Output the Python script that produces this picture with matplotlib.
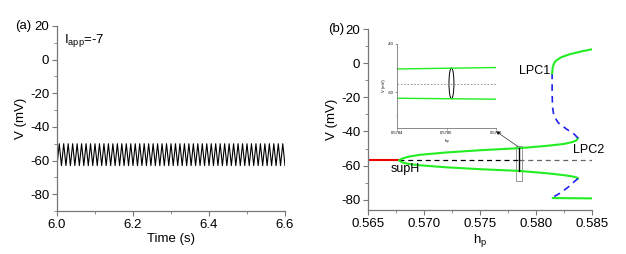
import numpy as np
import matplotlib
matplotlib.use('Agg')
import matplotlib.pyplot as plt
from matplotlib.patches import Ellipse, Rectangle

plt.rcParams['font.family'] = ['Liberation Sans', 'DejaVu Sans']
plt.rcParams['font.size'] = 9.5
plt.rcParams['axes.unicode_minus'] = False
plt.rcParams['mathtext.fontset'] = 'custom'
plt.rcParams['mathtext.rm'] = 'Liberation Sans'
plt.rcParams['mathtext.it'] = 'Liberation Sans'

# panel (a): tonic oscillation, Iapp = -7
t_start, t_end = 6.0, 6.6
n_cycles = 51
v_peak, v_trough = -50.0, -63.0

# panel (b): bifurcation diagram in hp
rest_hp = [0.565, 0.5678]
rest_v = [-57, -57]
unst_hp = [0.5678, 0.5785, 0.585]
unst_v = [-57, -57, -57]

upper_hp = [0.5678, 0.5679, 0.5681, 0.5686, 0.5696, 0.5720, 0.5750, 0.5785,
            0.5810, 0.5825, 0.5832, 0.5836, 0.58375]
upper_v = [-57, -56.4, -55.8, -54.8, -53.7, -52.3, -51.0, -49.8,
           -48.4, -47.3, -46.3, -45.3, -43.9]
lower_hp = [0.5678, 0.5679, 0.5681, 0.5686, 0.5696, 0.5720, 0.5750, 0.5785,
            0.5810, 0.5825, 0.5832, 0.5836, 0.58375]
lower_v = [-57, -57.6, -58.2, -59.0, -59.8, -61.0, -62.1, -63.1,
           -64.5, -65.6, -66.3, -66.9, -67.5]

blue_up_hp = [0.58375, 0.5834, 0.5827, 0.5820, 0.5816, 0.58148, 0.58144, 0.58144]
blue_up_v = [-43.9, -41.5, -38.5, -35.0, -31.0, -26.0, -18.0, -6.0]
top_hp = [0.58144, 0.5815, 0.5817, 0.5822, 0.5830, 0.5840, 0.5850]
top_v = [-6.0, -2.0, 1.0, 3.3, 5.2, 6.8, 8.1]

blue_lo_hp = [0.58375, 0.5834, 0.5828, 0.5821, 0.5815]
blue_lo_v = [-67.5, -69.5, -73.0, -76.3, -78.6]
bot_hp = [0.5815, 0.5850]
bot_v = [-79.0, -79.2]

orbit_hp = 0.5785
orbit_vmin, orbit_vmax = -63.2, -49.8
box = [0.57822, -68.9, 0.00054, 20.1]  # x, y, w, h

# inset (zoom near hp = 0.5785)
ins_hp = [0.5784, 0.5786]
ins_up = [-50.4, -49.8]
ins_lo = [-62.6, -63.0]
ins_unst = [-56.5, -56.5]
ins_orbit = (0.57851, -56.4, 0.00001, 12.8)

green = '#22ee22'

fig = plt.figure(figsize=(6.26, 2.54), dpi=100)

# ---- (a)
ax1 = fig.add_axes([57/626, 43/254, 228/626, 185/254])
t = np.linspace(t_start, t_end, 2*n_cycles + 1)
v = np.tile([v_trough, v_peak], n_cycles + 1)[:len(t)]
ax1.plot(t, v, color='k', lw=0.8)
ax1.set_xlim(6.0, 6.6)
ax1.set_ylim(-90, 20)
ax1.set_xticks([6.0, 6.2, 6.4, 6.6])
ax1.set_xticks([6.1, 6.3, 6.5], minor=True)
ax1.set_yticks([20, 0, -20, -40, -60, -80])
ax1.set_yticks(np.arange(-90, 20, 10), minor=True)
ax1.set_xlabel('Time (s)', labelpad=2)
ax1.set_ylabel('V (mV)', labelpad=2)
ax1.text(0.03, 0.97, r'I$_{\mathrm{app}}$=-7', transform=ax1.transAxes,
         ha='left', va='top')
fig.text(15/626, 1 - 26/254, '(a)', ha='left', va='center')

# ---- (b)
ax2 = fig.add_axes([368/626, 44/254, 224/626, 181/254])
ax2.plot(unst_hp[:2], unst_v[:2], color='k', lw=0.9, ls=(0, (4, 3)))
ax2.plot(unst_hp[1:], unst_v[1:], color='#666666', lw=0.9, ls=(0, (4, 3)))
ax2.plot(rest_hp, rest_v, color='#ee0000', lw=1.5)
ax2.plot(upper_hp, upper_v, color=green, lw=1.5)
ax2.plot(lower_hp, lower_v, color=green, lw=1.5)
ax2.plot(blue_up_hp, blue_up_v, color='#2222ee', lw=1.2, ls=(0, (4, 3)))
ax2.plot(blue_lo_hp, blue_lo_v, color='#2222ee', lw=1.2, ls=(0, (4, 3)))
ax2.plot(top_hp, top_v, color=green, lw=1.5)
ax2.plot(bot_hp, bot_v, color=green, lw=1.5)
ax2.plot([orbit_hp, orbit_hp], [orbit_vmin, orbit_vmax], color='k', lw=1.0)
ax2.add_patch(Rectangle((box[0], box[1]), box[2], box[3], fill=False,
                        ec='#888888', lw=0.6))
ax2.set_xlim(0.565, 0.585)
ax2.set_ylim(-86, 20)
ax2.set_xticks([0.565, 0.570, 0.575, 0.580, 0.585])
ax2.set_xticks([0.5675, 0.5725, 0.5775, 0.5825], minor=True)
ax2.set_yticks([20, 0, -20, -40, -60, -80])
ax2.set_yticks(np.arange(-80, 20, 10), minor=True)
ax2.set_xlabel(r'h$_{\mathrm{p}}$', labelpad=2)
ax2.set_ylabel('V (mV)', labelpad=2)
ax2.text(0.5670, -62, 'supH', ha='left', va='center', fontsize=9)
ax2.text(0.58125, -4.4, 'LPC1', ha='right', va='center', fontsize=9)
ax2.text(0.58326, -50.8, 'LPC2', ha='left', va='center', fontsize=9)
fig.text(328/626, 1 - 29/254, '(b)', ha='left', va='center')

for ax in (ax1, ax2):
    for s in ('top', 'right'):
        ax.spines[s].set_visible(False)
    for s in ('left', 'bottom'):
        ax.spines[s].set_color('#777777')
        ax.spines[s].set_linewidth(0.9)
    ax.tick_params(which='major', direction='out', length=3.5, width=0.8,
                   color='#777777', pad=2)
    ax.tick_params(which='minor', direction='out', length=2, width=0.6,
                   color='#777777')

# ---- inset
axi = fig.add_axes([397/626, 1 - 128/254, 99/626, 84/254])
axi.plot(ins_hp, ins_unst, color='#888888', lw=0.6, ls=(0, (2, 2)))
axi.plot(ins_hp, ins_up, color=green, lw=1.0)
axi.plot(ins_hp, ins_lo, color=green, lw=1.0)
axi.add_patch(Ellipse((ins_orbit[0], ins_orbit[1]), ins_orbit[2], ins_orbit[3],
                      fill=False, ec='k', lw=0.7))
axi.set_xlim(ins_hp[0], ins_hp[1])
axi.set_ylim(-75, -40)
axi.set_xticks([0.5784, 0.5785, 0.5786])
axi.set_xticklabels(['0.5784', '0.5785', '0.5786'])
axi.set_yticks([-40, -60])
axi.set_yticks([-50, -70], minor=True)
axi.tick_params(labelsize=3, length=1.5, width=0.5, pad=1, color='#777777')
axi.tick_params(which='minor', length=1, width=0.4, color='#777777')
axi.set_xlabel(r'h$_{\mathrm{p}}$', fontsize=3, labelpad=1)
axi.set_ylabel('V (mV)', fontsize=3, labelpad=1)
for s in ('top', 'right'):
    axi.spines[s].set_visible(False)
for s in ('left', 'bottom'):
    axi.spines[s].set_color('#777777')
    axi.spines[s].set_linewidth(0.6)

ax2.annotate('', xy=(1.0, -0.04), xycoords=axi.transAxes,
             xytext=(box[0] + box[2] * 0.3, box[1] + box[3]), textcoords='data',
             arrowprops=dict(arrowstyle='-|>', color='#333333', lw=0.5,
                             mutation_scale=5, shrinkA=0, shrinkB=0))

fig.savefig('out.png', dpi=100)
